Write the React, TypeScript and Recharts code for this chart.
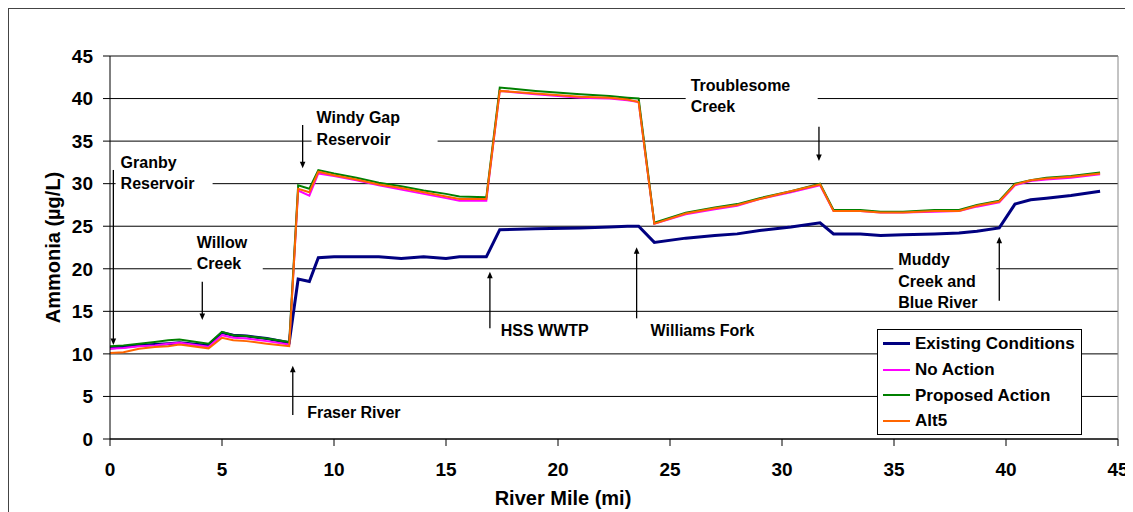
import React from "react";
import {
  CartesianGrid,
  Legend,
  Line,
  LineChart,
  ReferenceDot,
  ReferenceLine,
  XAxis,
  YAxis,
} from "recharts";

// river miles sampled along the profile
const miles = [
  0, 0.6, 1.3, 2.0, 2.6, 3.1, 4.4, 5.0, 5.5, 6.1, 7.0, 8.0, 8.4, 8.9, 9.3, 10, 11,
  12, 13, 14, 15, 15.6, 16.8, 17.4, 19, 21, 22.3, 23.1, 23.6, 24.3, 25.7, 27, 28,
  29, 30.4, 31.7, 32.3, 33.5, 34.4, 35.4, 36.8, 37.9, 38.7, 39.7, 40.4, 41.1,
  41.8, 42.9, 44.2,
];

// ammonia (ug/L) per alternative
const existing = [
  10.7, 10.8, 11.0, 11.1, 11.2, 11.3, 11.0, 12.5, 12.2, 12.1, 11.8, 11.3, 18.8,
  18.5, 21.3, 21.4, 21.4, 21.4, 21.2, 21.4, 21.2, 21.4, 21.4, 24.6, 24.7, 24.8,
  24.9, 25.0, 25.0, 23.1, 23.6, 23.9, 24.1, 24.5, 24.9, 25.4, 24.1, 24.1, 23.9,
  24.0, 24.1, 24.2, 24.4, 24.8, 27.6, 28.1, 28.3, 28.6, 29.1,
];
const noAction = [
  10.6, 10.7, 10.9, 11.0, 11.2, 11.3, 10.85, 12.2, 11.9, 11.8, 11.5, 11.1, 29.2,
  28.6, 31.2, 30.9, 30.4, 29.8, 29.3, 28.8, 28.3, 28.0, 28.0, 40.9, 40.5, 40.1,
  40.0, 39.8, 39.6, 25.3, 26.4, 27.0, 27.4, 28.2, 29.0, 29.8, 26.8, 26.8, 26.6,
  26.6, 26.7, 26.8, 27.3, 27.8, 29.8, 30.3, 30.5, 30.7, 31.1,
];
const proposed = [
  10.9, 11.0, 11.2, 11.4, 11.6, 11.7, 11.2, 12.6, 12.2, 12.1, 11.8, 11.4, 29.8,
  29.4, 31.6, 31.2, 30.7, 30.1, 29.7, 29.2, 28.8, 28.5, 28.4, 41.3, 40.9, 40.5,
  40.3, 40.1, 40.0, 25.4, 26.6, 27.2, 27.6, 28.3, 29.1, 30.0, 26.9, 26.9, 26.7,
  26.7, 26.9, 26.9, 27.5, 28.0, 30.0, 30.4, 30.7, 30.9, 31.3,
];
const alt5 = [
  10.1, 10.2, 10.6, 10.8, 10.9, 11.1, 10.65, 11.9, 11.6, 11.5, 11.2, 10.9, 29.4,
  29.0, 31.4, 31.0, 30.5, 29.9, 29.5, 29.0, 28.5, 28.2, 28.2, 40.9, 40.6, 40.2,
  40.1, 39.9, 39.6, 25.3, 26.5, 27.1, 27.5, 28.2, 29.1, 29.9, 26.8, 26.8, 26.6,
  26.6, 26.8, 26.8, 27.4, 27.9, 29.9, 30.4, 30.6, 30.8, 31.2,
];

const xTicks = [0, 5, 10, 15, 20, 25, 30, 35, 40, 45];
const yTicks = [0, 5, 10, 15, 20, 25, 30, 35, 40, 45];

const data = miles.map((mile, i) => ({
  mile,
  existing: existing[i],
  noAction: noAction[i],
  proposed: proposed[i],
  alt5: alt5[i],
}));

const series = [
  { key: "existing", name: "Existing Conditions", color: "#000080", width: 3 },
  { key: "noAction", name: "No Action", color: "#FF00FF", width: 2 },
  { key: "proposed", name: "Proposed Action", color: "#008000", width: 2 },
  { key: "alt5", name: "Alt5", color: "#FF6600", width: 2 },
];

// text notes: top-left corner in chart units
const notes = [
  { lines: ["Granby", "Reservoir"], x: 0.25, y: 33.78, w: 97, h: 44 },
  { lines: ["Willow", "Creek"], x: 3.65, y: 24.38, w: 71, h: 44 },
  { lines: ["Windy Gap", "Reservoir"], x: 9.0, y: 39.03, w: 126, h: 44 },
  { lines: ["Fraser River"], x: 8.58, y: 4.41, w: 95, h: 22 },
  { lines: ["HSS WWTP"], x: 17.22, y: 14.04, w: 85, h: 22 },
  { lines: ["Williams Fork"], x: 23.91, y: 14.04, w: 110, h: 22 },
  { lines: ["Troublesome", "Creek"], x: 25.7, y: 42.86, w: 132, h: 44 },
  { lines: ["Muddy", "Creek and", "Blue River"], x: 34.97, y: 22.38, w: 103, h: 58 },
];

// arrows: mile, start value, tip value
const arrows = [
  { x: 0.15, from: 31.61, to: 11.04 },
  { x: 4.12, from: 18.48, to: 13.98 },
  { x: 8.6, from: 36.89, to: 31.81 },
  { x: 8.16, from: 2.82, to: 8.61 },
  { x: 16.96, from: 13.0, to: 19.66 },
  { x: 23.51, from: 14.18, to: 22.52 },
  { x: 31.65, from: 36.69, to: 32.66 },
  { x: 39.7, from: 16.25, to: 23.77 },
];

const font = '"Liberation Sans", Arial, sans-serif';

const Arrow = (props: any) => {
  const { x1, y1, x2, y2 } = props;
  const dir = y2 > y1 ? 1 : -1;
  return (
    <g>
      <line x1={x1} y1={y1} x2={x2} y2={y2 - dir * 4} stroke="#000" strokeWidth={1.3} />
      <polygon
        points={`${x2},${y2} ${x2 - 2.8},${y2 - dir * 6.5} ${x2 + 2.8},${y2 - dir * 6.5}`}
        fill="#000"
      />
    </g>
  );
};

const makeNote = (n: (typeof notes)[number]) => (props: any) => {
  const { cx, cy } = props;
  return (
    <g>
      <rect x={cx} y={cy} width={n.w} height={n.h} fill="#fff" />
      <text fontFamily={font} fontWeight={700} fontSize={16} fill="#000">
        {n.lines.map((l, i) => (
          <tspan key={l} x={cx + 5} y={cy + 16.5 + i * 21.5}>
            {l}
          </tspan>
        ))}
      </text>
    </g>
  );
};

const LegendBox = () => (
  <div
    style={{
      border: "1px solid #000",
      background: "#fff",
      width: 203,
      paddingTop: 1,
      fontFamily: font,
      fontWeight: 700,
      fontSize: 17,
      color: "#000",
      lineHeight: 1,
    }}
  >
    {series.map((s) => (
      <div key={s.key} style={{ display: "flex", alignItems: "center", height: 25.7 }}>
        <span
          style={{
            display: "inline-block",
            width: 27,
            borderTop: `${s.width}px solid ${s.color}`,
            marginLeft: 5,
            marginRight: 5,
          }}
        />
        <span>{s.name}</span>
      </div>
    ))}
  </div>
);

export default function App() {
  return (
    <div style={{ position: "relative", width: 1125, height: 504, fontFamily: font }}>
      <LineChart
        width={1125}
        height={504}
        data={data}
        margin={{ top: 48, right: 15, bottom: 3, left: 42 }}
      >
        <CartesianGrid vertical={false} stroke="#000" />
        <XAxis
          dataKey="mile"
          type="number"
          domain={[0, 45]}
          ticks={xTicks}
          interval={0}
          height={70}
          stroke="#000"
          tickSize={7}
          tickMargin={17}
          tick={{ fill: "#000", fontSize: 19, fontWeight: 700, fontFamily: font }}
          label={{
            value: "River Mile (mi)",
            position: "insideBottom",
            offset: 4,
            dx: -51,
            fill: "#000",
            fontSize: 20,
            fontWeight: 700,
            fontFamily: font,
          }}
        />
        <YAxis
          domain={[0, 45]}
          ticks={yTicks}
          interval={0}
          width={60}
          stroke="#000"
          tickSize={7}
          tickMargin={10}
          tick={{ fill: "#000", fontSize: 19, fontWeight: 700, fontFamily: font }}
          label={{
            value: "Ammonia (\u00b5g/L)",
            angle: -90,
            position: "insideLeft",
            offset: 3,
            fill: "#000",
            fontSize: 20,
            fontWeight: 700,
            fontFamily: font,
            style: { textAnchor: "middle" },
          }}
        />
        <ReferenceLine y={45} stroke="#888" />
        <ReferenceLine x={45} stroke="#888" />
        {series.map((s) => (
          <Line
            key={s.key}
            type="linear"
            dataKey={s.key}
            name={s.name}
            stroke={s.color}
            strokeWidth={s.width}
            dot={false}
            activeDot={false}
            isAnimationActive={false}
          />
        ))}
        {notes.map((n) => (
          <ReferenceDot
            key={n.lines.join(" ")}
            x={n.x}
            y={n.y}
            r={0}
            shape={makeNote(n)}
          />
        ))}
        {arrows.map((a, i) => (
          <ReferenceLine
            key={i}
            segment={[
              { x: a.x, y: a.from },
              { x: a.x, y: a.to },
            ]}
            shape={Arrow}
          />
        ))}
        <Legend
          layout="vertical"
          align="center"
          verticalAlign="middle"
          content={<LegendBox />}
          wrapperStyle={{ left: 869, top: 321, width: 205, height: 106 }}
        />
      </LineChart>
      <div
        style={{
          position: "absolute",
          left: -1,
          top: -1,
          width: 1126,
          height: 505,
          borderLeft: "2px solid #444",
          borderTop: "2px solid #444",
          boxSizing: "border-box",
          pointerEvents: "none",
          zIndex: 5,
        }}
      />
    </div>
  );
}
